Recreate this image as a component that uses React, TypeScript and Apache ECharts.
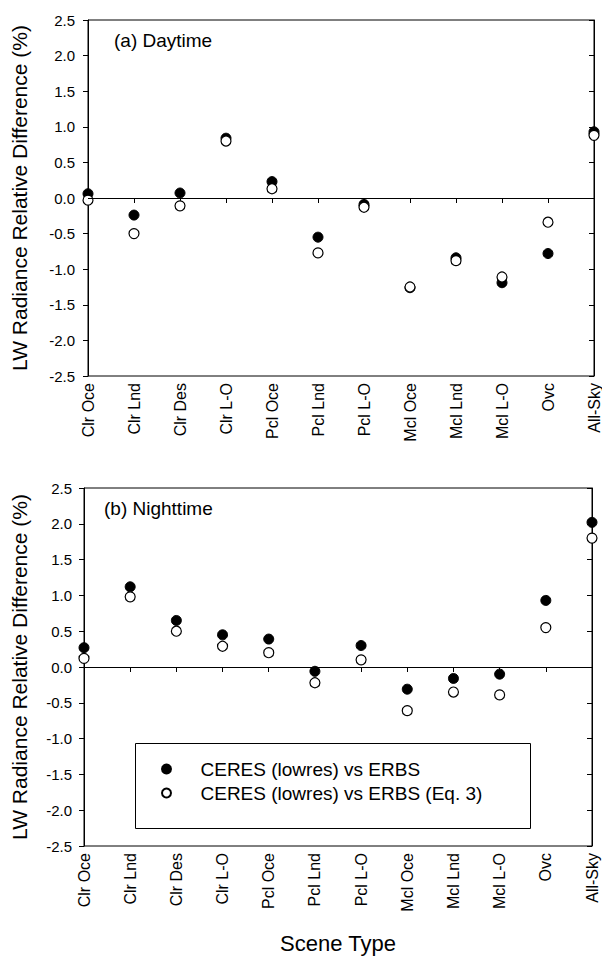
import React, { useEffect, useRef } from "react";
import * as echarts from "echarts";

const categories = ["Clr Oce", "Clr Lnd", "Clr Des", "Clr L-O", "Pcl Oce", "Pcl Lnd", "Pcl L-O", "Mcl Oce", "Mcl Lnd", "Mcl L-O", "Ovc", "All-Sky"];

const dayFilled = [0.06, -0.24, 0.07, 0.84, 0.23, -0.55, -0.09, -1.26, -0.84, -1.19, -0.78, 0.93];
const dayOpen = [-0.03, -0.5, -0.11, 0.8, 0.13, -0.77, -0.13, -1.25, -0.88, -1.11, -0.34, 0.88];

const nightFilled = [0.27, 1.12, 0.65, 0.45, 0.39, -0.06, 0.3, -0.31, -0.16, -0.1, 0.93, 2.02];
const nightOpen = [0.12, 0.98, 0.5, 0.29, 0.2, -0.22, 0.1, -0.61, -0.35, -0.39, 0.55, 1.8];

const seriesNames = ["CERES (lowres) vs ERBS", "CERES (lowres) vs ERBS (Eq. 3)"];
const panelLabels = ["(a) Daytime", "(b) Nighttime"];
const yTitle = "LW Radiance Relative Difference (%)";
const xTitle = "Scene Type";

const FONT = "'Liberation Sans', Arial, Helvetica, sans-serif";

export default function App() {
  const ref = useRef<HTMLDivElement>(null);

  useEffect(() => {
    if (!ref.current) return;
    const chart = echarts.init(ref.current, undefined, { renderer: "svg" });

    const grids = [
      { left: 88, right: 6, top: 20, height: 356 },
      { left: 84, right: 10, top: 488, height: 358 },
    ];

    const xAxes = grids.map((_, i) => ({
      type: "category",
      gridIndex: i,
      data: categories,
      boundaryGap: false,
      axisLine: { show: true, lineStyle: { color: "#000", width: 1 } },
      axisTick: { show: true, alignWithLabel: true, length: 5, lineStyle: { color: "#000" } },
      axisLabel: { interval: 0, rotate: 90, margin: 7, fontSize: 16, color: "#000", fontFamily: FONT },
      splitLine: { show: false },
      ...(i === 1
        ? {
            name: xTitle,
            nameLocation: "middle",
            nameGap: 86,
            nameTextStyle: { fontSize: 22, color: "#000", fontFamily: FONT },
          }
        : {}),
    }));

    const yAxes: any[] = [];
    grids.forEach((_, i) => {
      yAxes.push({
        type: "value",
        gridIndex: i,
        min: -2.5,
        max: 2.5,
        interval: 0.5,
        position: "left",
        axisLine: { show: true, lineStyle: { color: "#000", width: 1 } },
        axisTick: { show: true, length: 5, lineStyle: { color: "#000" } },
        axisLabel: {
          margin: i === 0 ? 13 : 12,
          fontSize: 15,
          color: "#000",
          fontFamily: FONT,
          formatter: (v: number) => v.toFixed(1),
        },
        splitLine: { show: false },
        name: yTitle,
        nameLocation: "middle",
        nameGap: i === 0 ? 58 : 54,
        nameTextStyle: { fontSize: 21, color: "#000", fontFamily: FONT },
      });
      yAxes.push({
        type: "value",
        gridIndex: i,
        min: -2.5,
        max: 2.5,
        interval: 0.5,
        position: "right",
        axisLine: { show: true, lineStyle: { color: "#000", width: 1 } },
        axisTick: { show: true, inside: true, length: 5, lineStyle: { color: "#000" } },
        axisLabel: { show: false },
        splitLine: { show: false },
      });
    });

    const panels = [
      [dayFilled, dayOpen],
      [nightFilled, nightOpen],
    ];

    const series: any[] = [];
    panels.forEach((pair, i) => {
      series.push({
        type: "scatter",
        name: seriesNames[0],
        xAxisIndex: i,
        yAxisIndex: i * 2,
        data: pair[0],
        symbol: "circle",
        symbolSize: 10,
        itemStyle: { color: "#000", borderColor: "#000", borderWidth: 1, opacity: 1 },
        markLine: {
          silent: true,
          symbol: ["none", "none"],
          label: { show: false },
          lineStyle: { color: "#000", width: 1, type: "solid", opacity: 1 },
          data: [{ yAxis: 0 }],
        },
        z: 3,
      });
      series.push({
        type: "scatter",
        name: seriesNames[1],
        xAxisIndex: i,
        yAxisIndex: i * 2,
        data: pair[1],
        symbol: "circle",
        symbolSize: 10,
        itemStyle: { color: "#fff", borderColor: "#000", borderWidth: 1.2, opacity: 1 },
        z: 4,
      });
    });

    chart.setOption({
      animation: false,
      backgroundColor: "#fff",
      textStyle: { fontFamily: FONT },
      grid: grids.map((g) => ({ ...g, show: true, borderColor: "#000", borderWidth: 1, backgroundColor: "transparent" })),
      xAxis: xAxes,
      yAxis: yAxes,
      legend: {
        orient: "vertical",
        left: 161,
        top: 759,
        padding: 0,
        itemWidth: 58,
        itemHeight: 9,
        itemGap: 4,
        selectedMode: false,
        data: seriesNames,
        textStyle: { fontSize: 19, lineHeight: 20, color: "#000", fontFamily: FONT },
        z: 10,
      },
      graphic: [
        {
          type: "rect",
          shape: { x: 135.5, y: 743.5, width: 395, height: 85 },
          style: { fill: "none", stroke: "#000", lineWidth: 1 },
          z: 1,
        },
        {
          type: "text",
          x: 114,
          y: 40,
          style: { text: panelLabels[0], fontSize: 19, fill: "#000", fontFamily: FONT, verticalAlign: "middle" },
        },
        {
          type: "text",
          x: 104,
          y: 508,
          style: { text: panelLabels[1], fontSize: 19, fill: "#000", fontFamily: FONT, verticalAlign: "middle" },
        },
      ],
      series,
    });

    return () => {
      chart.dispose();
    };
  }, []);

  return <div ref={ref} style={{ position: "fixed", left: 0, top: 0, width: 602, height: 963 }} />;
}
